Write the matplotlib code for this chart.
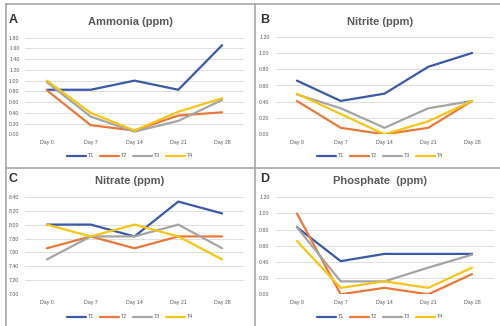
import matplotlib
matplotlib.use("Agg")
from matplotlib import pyplot as plt
from matplotlib.lines import Line2D
import numpy as np

plt.rcParams['font.family'] = ['Liberation Sans', 'DejaVu Sans']

# 数据
days = ["Day 0", "Day 7", "Day 14", "Day 21", "Day 28"]
series_names = ["T1", "T2", "T3", "T4"]

ammonia_t1 = [0.83, 0.83, 1.00, 0.83, 1.66]
ammonia_t2 = [0.82, 0.17, 0.07, 0.35, 0.41]
ammonia_t3 = [0.97, 0.33, 0.05, 0.25, 0.64]
ammonia_t4 = [1.00, 0.40, 0.07, 0.42, 0.67]

nitrite_t1 = [0.66, 0.41, 0.50, 0.83, 1.00]
nitrite_t2 = [0.41, 0.08, 0.00, 0.08, 0.41]
nitrite_t3 = [0.49, 0.32, 0.08, 0.32, 0.41]
nitrite_t4 = [0.50, 0.25, 0.00, 0.16, 0.41]

nitrate_t1 = [8.00, 8.00, 7.83, 8.33, 8.16]
nitrate_t2 = [7.66, 7.83, 7.66, 7.83, 7.83]
nitrate_t3 = [7.50, 7.83, 7.83, 8.00, 7.66]
nitrate_t4 = [8.00, 7.83, 8.00, 7.83, 7.50]

phosphate_t1 = [0.83, 0.41, 0.50, 0.50, 0.50]
phosphate_t2 = [1.00, 0.00, 0.08, 0.00, 0.25]
phosphate_t3 = [0.83, 0.16, 0.16, 0.33, 0.49]
phosphate_t4 = [0.66, 0.08, 0.16, 0.08, 0.33]

colors = ["#3A59A8", "#E8793A", "#A5A5A5", "#F5C518"]

W, H = 500, 326
fig = plt.figure(figsize=(5, 3.26), dpi=100)
fig.patch.set_facecolor("white")


def px_axes(x0, x1, ytop, ybot):
    return fig.add_axes([x0 / W, 1 - ybot / H, (x1 - x0) / W, (ybot - ytop) / H])


panels = [
    ("A", "Ammonia (ppm)", [ammonia_t1, ammonia_t2, ammonia_t3, ammonia_t4],
     np.arange(0, 1.81, 0.2), (25, 244, 37.7, 134.3), 13, 130, 20, 156),
    ("B", "Nitrite (ppm)", [nitrite_t1, nitrite_t2, nitrite_t3, nitrite_t4],
     np.arange(0, 1.21, 0.2), (275, 494, 36.7, 134.3), 265, 380, 20, 156),
    ("C", "Nitrate (ppm)", [nitrate_t1, nitrate_t2, nitrate_t3, nitrate_t4],
     np.arange(7.0, 8.41, 0.2), (25, 244, 196.7, 294.3), 13, 130, 179, 317),
    ("D", "Phosphate  (ppm)", [phosphate_t1, phosphate_t2, phosphate_t3, phosphate_t4],
     np.arange(0, 1.21, 0.2), (275, 494, 197.3, 294.3), 265, 380, 179, 317),
]

x = np.arange(len(days))
for letter, title, data, yt, box, lx, tx, ty, legy in panels:
    ax = px_axes(*box)
    for vals, c, name in zip(data, colors, series_names):
        ax.plot(x, vals, color=c, lw=1.6, label=name, solid_capstyle='round')
    ax.set_xlim(-0.5, 4.5)
    ax.set_ylim(yt[0], yt[-1])
    ax.set_yticks(yt)
    ax.set_yticklabels(["{:.2f}".format(v) for v in yt], fontsize=3.8, color="#595959")
    ax.set_xticks(x)
    ax.set_xticklabels(days, fontsize=3.8, color="#595959")
    ax.tick_params(length=0, pad=4)
    ax.grid(axis='y', color="#D9D9D9", lw=0.6)
    ax.set_axisbelow(True)
    for s in ax.spines.values():
        s.set_visible(False)
    fig.text(lx / W, 1 - ty / H, letter, fontsize=9, fontweight='bold',
             color="#333333", ha='center', va='center')
    fig.text(tx / W, 1 - (ty + 2) / H, title, fontsize=8, fontweight='bold',
             color="#595959", ha='center', va='center')
    ax.legend(loc='center', bbox_to_anchor=(0.48, -(legy - box[3]) / (box[3] - box[2])),
              ncol=4, frameon=False, fontsize=3.8, handlelength=3.5,
              columnspacing=1.2, handletextpad=0.4, labelcolor="#595959")

# 边框线
frame = "#A6A6A6"
fig.add_artist(Line2D([6 / W, 1], [1 - 4 / H, 1 - 4 / H], color=frame, lw=1.2))
fig.add_artist(Line2D([6 / W, 6 / W], [1 - 4 / H, 0], color=frame, lw=1.2))
fig.add_artist(Line2D([255 / W, 255 / W], [1 - 4 / H, 0], color=frame, lw=1.2))
fig.add_artist(Line2D([6 / W, 1], [1 - 168 / H, 1 - 168 / H], color=frame, lw=1.2))

fig.savefig("out.png", dpi=100)
